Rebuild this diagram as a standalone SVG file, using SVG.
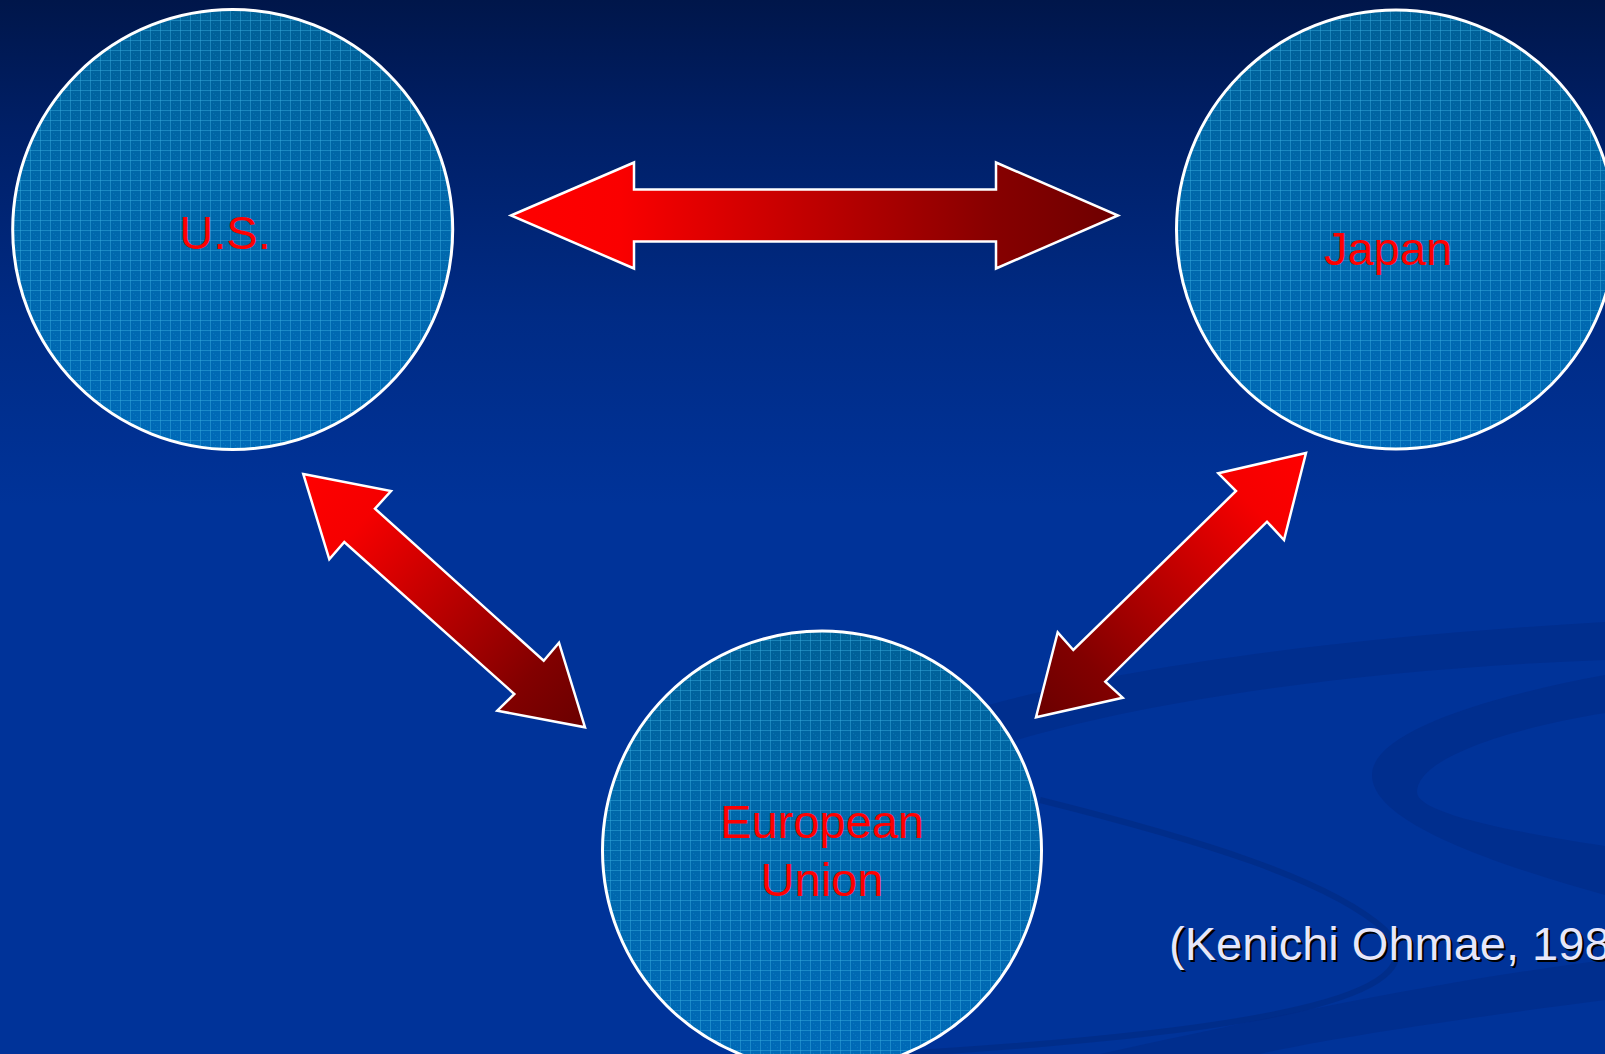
<svg xmlns="http://www.w3.org/2000/svg" width="1605" height="1054" viewBox="0 0 1605 1054">
  <defs>
    <linearGradient id="bg" x1="0" y1="0" x2="0" y2="1054" gradientUnits="userSpaceOnUse">
      <stop offset="0" stop-color="#00164a"/>
      <stop offset="0.12" stop-color="#001f66"/>
      <stop offset="0.3" stop-color="#002b85"/>
      <stop offset="0.48" stop-color="#003399"/>
      <stop offset="1" stop-color="#003399"/>
    </linearGradient>
    <linearGradient id="disc" x1="0" y1="0" x2="0" y2="1">
      <stop offset="0" stop-color="#005f96"/>
      <stop offset="0.35" stop-color="#0067a8"/>
      <stop offset="1" stop-color="#006ab8"/>
    </linearGradient>
    <pattern id="grid" width="10" height="10" patternUnits="userSpaceOnUse">
      <rect x="0" y="0" width="10" height="1" fill="#3ab0e0" fill-opacity="0.45"/>
      <rect x="0" y="0" width="1" height="10" fill="#3ab0e0" fill-opacity="0.45"/>
      <rect x="5" y="5" width="1" height="1" fill="#3ab0e0" fill-opacity="0.25"/>
      <rect x="3" y="3" width="1" height="1" fill="#3ab0e0" fill-opacity="0.2"/>
      <rect x="7" y="7" width="1" height="1" fill="#3ab0e0" fill-opacity="0.2"/>
    </pattern>
    <linearGradient id="gH" x1="511" y1="0" x2="1118" y2="0" gradientUnits="userSpaceOnUse">
      <stop offset="0" stop-color="#ff0000"/>
      <stop offset="0.18" stop-color="#fa0000"/>
      <stop offset="0.8" stop-color="#860000"/>
      <stop offset="1" stop-color="#6e0000"/>
    </linearGradient>
    <linearGradient id="gL" x1="303" y1="474" x2="585" y2="727" gradientUnits="userSpaceOnUse">
      <stop offset="0" stop-color="#ff0000"/>
      <stop offset="0.2" stop-color="#f50000"/>
      <stop offset="0.8" stop-color="#820000"/>
      <stop offset="1" stop-color="#6a0000"/>
    </linearGradient>
    <linearGradient id="gR" x1="1306" y1="453" x2="1036" y2="717" gradientUnits="userSpaceOnUse">
      <stop offset="0" stop-color="#ff0000"/>
      <stop offset="0.2" stop-color="#f50000"/>
      <stop offset="0.8" stop-color="#820000"/>
      <stop offset="1" stop-color="#6a0000"/>
    </linearGradient>
  </defs>
  <style>
    .ring { stroke: #ffffff; stroke-width: 3; }
    .label { font-family: "Liberation Sans", Arial, sans-serif; font-size: 47px; fill: #ff0000; text-anchor: middle; }
    .arrow { stroke: #ffffff; stroke-width: 2.5; stroke-linejoin: miter; }
    .cite { font-family: "Liberation Sans", Arial, sans-serif; font-size: 47px; }
    .swoosh { fill: #002a85; fill-opacity: 0.55; }
  </style>

  <!-- background -->
  <rect x="0" y="0" width="1605" height="1054" fill="url(#bg)"/>
  <g id="background-swooshes">
    <path class="swoosh" d="M 985 706 C 1150 660 1380 635 1605 622 L 1605 660 C 1380 668 1150 698 1000 745 Z"/>
    <path class="swoosh" d="M 1605 675 C 1470 700 1372 735 1372 775 C 1372 820 1480 860 1605 895 L 1605 846 C 1500 830 1417 812 1417 792 C 1417 760 1500 730 1605 713 Z"/>
    <path d="M 1040 800 C 1200 840 1330 880 1385 930 C 1440 990 1300 1030 900 1054" fill="none" stroke="#002a80" stroke-opacity="0.6" stroke-width="6"/>
    <path class="swoosh" d="M 1100 1054 C 1300 1010 1450 980 1605 960 L 1605 1000 C 1450 1020 1320 1040 1260 1054 Z"/>
  </g>

  <!-- connectors -->
  <g id="connectors">
    <polygon class="arrow" fill="url(#gH)" points="511,215.5 634,162.5 634,189.5 996,189.5 996,162.5 1118,215.5 996,268.5 996,241.5 634,241.5 634,268.5"/>
    <polygon class="arrow" fill="url(#gL)" points="303.3,474 391,491 375,508.7 543.7,660.7 559,642.7 585,727.3 497.3,710.7 514.3,694 344.3,542 329.3,559.3"/>
    <polygon class="arrow" fill="url(#gR)" points="1306,453 1284,540 1267,521.7 1105.3,681.7 1122.7,697.7 1036,717.3 1057.7,632.3 1073.3,650 1236,491 1218.3,473.3"/>
  </g>

  <!-- nodes -->
  <g id="node-us">
    <circle cx="232.7" cy="229.5" r="220" fill="url(#disc)"/>
    <circle cx="232.7" cy="229.5" r="220" fill="url(#grid)" class="ring"/>
    <text class="label" x="225" y="249">U.S.</text>
  </g>
  <g id="node-japan">
    <circle cx="1396" cy="229.5" r="219.5" fill="url(#disc)"/>
    <circle cx="1396" cy="229.5" r="219.5" fill="url(#grid)" class="ring"/>
    <text class="label" x="1388" y="265">Japan</text>
  </g>
  <g id="node-eu">
    <circle cx="822" cy="850.5" r="219.5" fill="url(#disc)"/>
    <circle cx="822" cy="850.5" r="219.5" fill="url(#grid)" class="ring"/>
    <text class="label" x="822" y="838">European</text>
    <text class="label" x="822" y="896">Union</text>
  </g>

  <g id="citation">
    <text class="cite" x="1171" y="962" fill="#000000">(Kenichi Ohmae, 198</text>
    <text class="cite" x="1169" y="960" fill="#e6e6fa">(Kenichi Ohmae, 198</text>
  </g>
</svg>
